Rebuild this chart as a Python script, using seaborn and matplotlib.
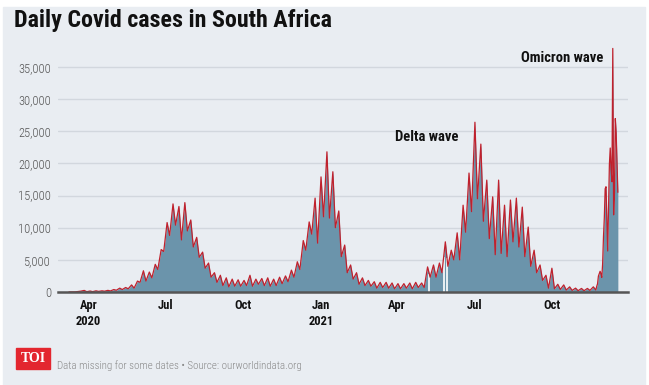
import numpy as np
import pandas as pd
import matplotlib
matplotlib.use("Agg")
import matplotlib.pyplot as plt
import matplotlib.dates as mdates
from matplotlib.patches import Rectangle
import seaborn as sns

# weekly low (Monday) and high (Friday) daily cases
week_start = pd.date_range("2020-03-09", "2021-11-15", freq="W-MON")
week_low = [
    7, 11, 128, 46, 50, 90, 120, 160, 270, 380,
    500, 600, 1500, 1700, 2200, 3500, 6300, 8800, 10400, 8100,
    9500, 7000, 5400, 3700, 2300, 1500, 1000, 800, 900, 900,
    1000, 900, 1200, 1000, 900, 1000, 1300, 1600, 2300, 3500,
    6500, 9000, 7600, 11700, 11500, 10000, 5500, 3000, 2000, 1200,
    1000, 900, 600, 700, 600, 500, 500, 600, 500, 700,
    700, 2300, 2300, 3000, 4000, 5000, 5000, 9300, 12500, 14500,
    11000, 8300, 5800, 6000, 5500, 7800, 7000, 5500, 4000, 3000,
    1800, 600, 500, 400, 300, 250, 200, 200, 250,
]
week_high = [
    17, 80, 243, 150, 180, 180, 250, 380, 600, 700,
    1100, 1700, 3300, 3100, 4300, 6600, 10800, 13700, 13300, 13900,
    11200, 8500, 6200, 4500, 3000, 2600, 2200, 2000, 1900, 1800,
    2600, 2000, 2100, 2200, 2000, 2300, 2500, 3400, 4700, 8000,
    10900, 14600, 17900, 21800, 18700, 12600, 7300, 4200, 3000, 2200,
    1800, 1600, 1500, 1500, 1400, 1300, 1300, 1400, 1500, 1400,
    3900, 4200, 4500, 7800, 6500, 9200, 13500, 18500, 26400, 23000,
    17400, 14800, 17400, 13500, 14300, 14600, 13200, 10100, 6500, 4200,
    2600, 3700, 1200, 1100, 800, 600, 550, 550, 800,
]

# Omicron surge, day by day
omicron_days = pd.date_range("2021-11-22", "2021-12-18", freq="D")
omicron_cases = [
    310, 870, 1280, 2470, 2830, 3220, 2860, 2270, 4370,
    8560, 11540, 16060, 16370, 11130, 6380, 13150, 19840, 22390,
    19020, 17150, 37880, 12000, 15500, 26980, 24790, 20000, 15500,
]

missing_dates = pd.to_datetime(["2021-05-09", "2021-05-26", "2021-05-30"])

tick_dates = pd.to_datetime(["2020-04-01", "2020-07-01", "2020-10-01", "2021-01-01",
                             "2021-04-01", "2021-07-01", "2021-10-01"])
tick_labels = ["Apr\n2020", "Jul", "Oct", "Jan\n2021", "Apr", "Jul", "Oct"]
y_ticks = [0, 5000, 10000, 15000, 20000, 25000, 30000, 35000]

bg = "#e9edf2"
narrow = ["Roboto Condensed", "Noto Sans", "DejaVu Sans"]

lows = pd.DataFrame({"date": week_start, "cases": week_low})
highs = pd.DataFrame({"date": week_start + pd.Timedelta(days=4), "cases": week_high})
tail = pd.DataFrame({"date": omicron_days, "cases": omicron_cases})
df = pd.concat([lows, highs, tail]).sort_values("date").reset_index(drop=True)

sns.set_theme(style="white")
plt.rcParams["font.family"] = narrow

fig = plt.figure(figsize=(6.49, 3.85), dpi=100, facecolor="white")
fig.patches.append(Rectangle((3 / 649, 0), 642 / 649, 378 / 385,
                             transform=fig.transFigure, color=bg, zorder=-5))
ax = fig.add_axes([58 / 649, 0.2416, 570 / 649, 0.668])
ax.set_facecolor(bg)

ax.fill_between(df["date"], df["cases"], color="#6b94ab", lw=0, zorder=1)
sns.lineplot(data=df, x="date", y="cases", color="#c0212d", lw=0.9, ax=ax, zorder=3)

# gaps where data is missing
xnum = mdates.date2num(df["date"])
gap_h = np.interp(mdates.date2num(missing_dates), xnum, df["cases"])
ax.vlines(missing_dates, 0, gap_h, color="white", lw=1.2, zorder=2)

ax.set_xlim(pd.Timestamp("2020-02-25"), pd.Timestamp("2021-12-30"))
ax.set_ylim(0, 40000)
ax.set_yticks(y_ticks)
ax.set_yticklabels([f"{v:,}" for v in y_ticks], color="#555555", fontsize=9,
                   fontweight="light")
ax.set_xticks(tick_dates)
ax.set_xticklabels(tick_labels, fontsize=9, fontweight="bold", color="#111111",
                   linespacing=1.35)
ax.tick_params(axis="both", length=0)
ax.tick_params(axis="y", pad=5)
ax.tick_params(axis="x", pad=5)
ax.set_xlabel("")
ax.set_ylabel("")
ax.grid(axis="y", color="#d2d7de", lw=1)
ax.set_axisbelow(True)
for s in ["top", "right", "left"]:
    ax.spines[s].set_visible(False)
ax.spines["bottom"].set_color("#555555")
ax.spines["bottom"].set_linewidth(1.8)
ax.spines["bottom"].set_zorder(4)

fig.text(14 / 649, 1 - 20 / 385, "Daily Covid cases in South Africa",
         fontsize=17.3, fontweight="bold", color="#111111", va="center")
fig.text(562 / 649, 1 - 58 / 385, "Omicron wave", fontsize=10.5, fontweight="bold",
         color="#111111", ha="center", va="center")
fig.text(427 / 649, 1 - 137 / 385, "Delta wave", fontsize=10.5, fontweight="bold",
         color="#111111", ha="center", va="center")

fig.patches.append(Rectangle((16 / 649, 1 - 369 / 385), 34 / 649, 21 / 385,
                             transform=fig.transFigure, color="#e3262f"))
fig.text(33 / 649, 1 - 358 / 385, "TOI", family=["Liberation Serif", "DejaVu Serif"],
         fontsize=10, fontweight="bold", color="white", ha="center", va="center")
fig.text(57 / 649, 1 - 366 / 385, "Data missing for some dates \u2022 Source: ourworldindata.org",
         fontsize=7.8, color="#888888", va="center", fontweight="light")

fig.savefig("out.png", dpi=100, facecolor="white")
